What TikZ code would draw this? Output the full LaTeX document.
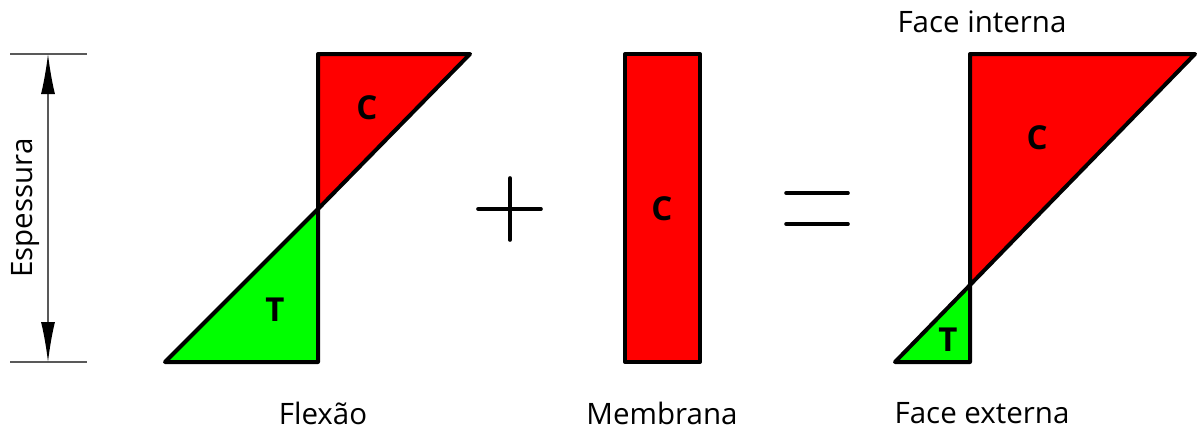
\documentclass[tikz,border=0pt]{standalone}
\usepackage{fontspec}
\setmainfont{Open Sans}
\usetikzlibrary{arrows.meta}
\definecolor{cred}{RGB}{255,0,0}
\definecolor{cgreen}{RGB}{0,255,0}
\tikzset{
  diag/.style={draw=black,line width=4pt,line join=round},
  lbl/.style={font=\fontsize{29.5}{32}\selectfont,inner sep=0pt},
  zone/.style={font=\fontsize{33}{36}\selectfont\bfseries,inner sep=0pt},
  dimline/.style={draw=black!65,line width=1.3pt},
  dimtip/.tip={Latex[length=40pt,width=14pt,black]},
  sym/.style={line width=3.6pt,draw=black,line cap=round}
}
\begin{document}
\begin{tikzpicture}[x=1pt,y=-1pt]
\useasboundingbox (0,0) rectangle (1198,429);
% dimension
\coordinate (dt1) at (10,54); \coordinate (dt2) at (87,54);
\coordinate (db1) at (10,362); \coordinate (db2) at (87,362);
\coordinate (at) at (48,54); \coordinate (ab) at (48,362);
\draw[dimline] (dt1) -- (dt2);
\draw[dimline] (db1) -- (db2);
\draw[dimline,{dimtip}-{dimtip}] (at) -- (ab);
\node[lbl,rotate=90] (esp) at (26,208) {Espessura};
% flexao
\coordinate (f1) at (318,54); \coordinate (f2) at (470,54); \coordinate (f0) at (318,209);
\coordinate (f3) at (318,362); \coordinate (f4) at (165,362);
\filldraw[diag,fill=cred] (f1) -- (f2) -- (f0) -- cycle;
\filldraw[diag,fill=cgreen] (f0) -- (f3) -- (f4) -- cycle;
\node[zone] (fc) at (367,108) {C};
\node[zone] (ft) at (275,310) {T};
\node[lbl] (flex) at (323,413) {Flexão};
% plus
\coordinate (p1) at (478,209); \coordinate (p2) at (541,209);
\coordinate (p3) at (510,178); \coordinate (p4) at (510,240);
\draw[sym] (p1) -- (p2); \draw[sym] (p3) -- (p4);
% membrana
\filldraw[diag,fill=cred] (625,54) rectangle (700,362);
\node[zone] (mc) at (662,209) {C};
\node[lbl] (memb) at (662,413) {Membrana};
% equals
\coordinate (e1) at (786,193); \coordinate (e2) at (848,193);
\coordinate (e3) at (786,224); \coordinate (e4) at (848,224);
\draw[sym] (e1) -- (e2); \draw[sym] (e3) -- (e4);
% result
\coordinate (r1) at (970,54); \coordinate (r2) at (1195,54); \coordinate (r0) at (970,285);
\coordinate (r3) at (970,362); \coordinate (r4) at (895,362);
\filldraw[diag,fill=cred] (r1) -- (r2) -- (r0) -- cycle;
\filldraw[diag,fill=cgreen] (r0) -- (r3) -- (r4) -- cycle;
\node[zone] (rc) at (1037,138) {C};
\node[zone] (rt) at (948,340) {T};
\node[lbl] (fi) at (982,22) {Face interna};
\node[lbl] (fe) at (982,413) {Face externa};
\end{tikzpicture}
\end{document}
